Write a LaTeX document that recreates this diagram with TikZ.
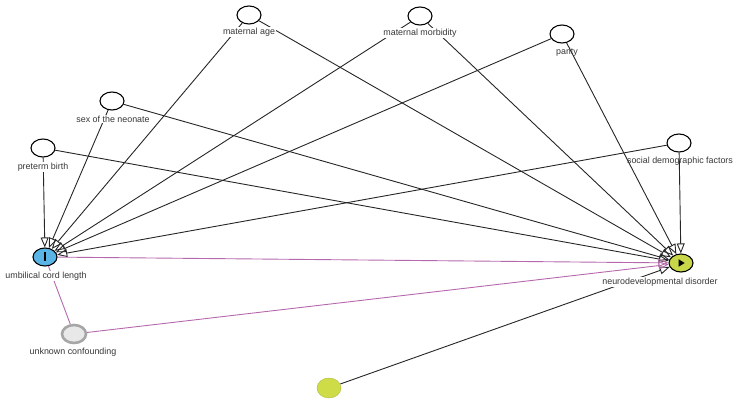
\documentclass[tikz,border=0pt]{standalone}
\usepackage{fontspec}
\setmainfont{Liberation Sans}
\usetikzlibrary{shapes.geometric,arrows.meta,backgrounds}
\definecolor{edgepink}{RGB}{182,104,172}
\definecolor{ublue}{RGB}{90,180,229}
\definecolor{nyellow}{RGB}{200,214,74}
\definecolor{byellow}{RGB}{206,220,72}
\definecolor{txt}{RGB}{55,55,55}
\tikzset{
  var/.style={ellipse, draw=black, line width=1.1pt, fill=white, minimum width=24pt, minimum height=18pt, inner sep=0pt},
  lab/.style={font=\fontsize{8.9}{10}\selectfont, text=txt, inner sep=1pt},
  labw/.style={lab, fill=white},
  edge/.style={draw=black!85, line width=0.9pt, -{Triangle[open, length=10pt, width=8pt]}},
  pedge/.style={draw=edgepink, line width=0.9pt, -{Triangle[open, length=10pt, width=8pt]}},
  pline/.style={draw=edgepink, line width=0.9pt},
}
\begin{document}
\begin{tikzpicture}[x=1pt, y=-1pt]
\useasboundingbox (0,0) rectangle (740,401);
% nodes
\node[var] (ma) at (249,15) {};
\node[var] (mm) at (420,16) {};
\node[var] (pa) at (562,34) {};
\node[var] (sn) at (112,101) {};
\node[var] (pb) at (43,148) {};
\node[var] (sd) at (679,143) {};
\node[var, fill=ublue] (u) at (45,257) {};
\fill (u.center) ++(-1,-4.5) rectangle ++(2,9);
\node[var, fill=nyellow] (n) at (681,263) {};
\fill (n.center) ++(-2.5,-3.8) -- ++(0,7.6) -- ++(6.2,-3.8) -- cycle;
\node[var, draw=black!35, line width=2.6pt, fill=black!9] (uc) at (74,334) {};
\node[ellipse, fill=byellow, draw=byellow!85!black, line width=0.4pt, minimum width=24pt, minimum height=20pt, inner sep=0pt] (y) at (329,388) {};
% edges
\begin{pgfonlayer}{background}
\draw[edge] (pb) -- (u);
\draw[edge] (sn) -- (u);
\draw[edge] (ma) -- (u);
\draw[edge] (mm) -- (u);
\draw[edge] (pa) -- (u);
\draw[edge] (sd) -- (u);
\draw[edge] (ma) -- (n);
\draw[edge] (mm) -- (n);
\draw[edge] (pa) -- (n);
\draw[edge] (sn) -- (n);
\draw[edge] (pb) -- (n);
\draw[edge] (sd) -- (n);
\draw[edge] (y) -- (n);
\draw[pedge] (u) -- (n);
\draw[pline] (uc) -- (u);
\draw[pedge] (uc) -- (n);
\end{pgfonlayer}
% labels
\node[labw] (lma) at (249,32) {maternal age};
\node[labw] (lmm) at (420,33) {maternal morbidity};
\node[lab] (lpa) at (567,52) {parity};
\node[labw] (lsn) at (113,119) {sex of the neonate};
\node[labw] (lpb) at (43,167) {preterm birth};
\node[lab] (lsd) at (680,161) {social demographic factors};
\node[labw] (lu) at (46,276) {umbilical cord length};
\node[labw] (ln) at (660,282) {neurodevelopmental disorder};
\node[labw] (luc) at (73,352) {unknown confounding};
\end{tikzpicture}
\end{document}
